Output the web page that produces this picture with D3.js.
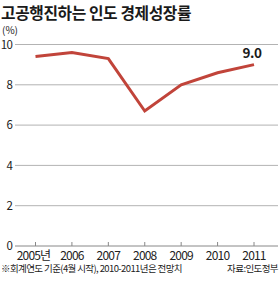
<!DOCTYPE html>
<html><head><meta charset="utf-8">
<script src="https://cdn.jsdelivr.net/npm/d3@7"></script>
<style>
html,body{margin:0;padding:0;background:#fff;}
svg{display:block;}
text{font-family:"Noto Sans CJK KR","Noto Sans",sans-serif;}
</style></head>
<body>
<script>
const title = "고공행진하는 인도 경제성장률";
const unitLabel = "(%)";
const years = ["2005","2006","2007","2008","2009","2010","2011"];
const yearLabels = ["2005년","2006","2007","2008","2009","2010","2011"];
const growth = [9.4, 9.6, 9.3, 6.7, 8.0, 8.6, 9.0];
const yTicks = [0, 2, 4, 6, 8, 10];
const lastLabel = "9.0";
const footnote = "※회계연도 기준(4월 시작), 2010-2011년은 전망치";
const source = "자료:인도정부";

const W = 280, H = 283;
const svg = d3.select("body").append("svg").attr("width", W).attr("height", H);

const x = d3.scalePoint().domain(years).range([35.5, 254]);
const y = d3.scaleLinear().domain([0, 10]).range([246, 44.5]);
const gridL = 15, gridR = 278;

svg.append("text").attr("x", 1).attr("y", 18.5)
  .attr("font-size", 15.8).attr("font-weight", "bold").attr("fill", "#1a1a1a")
  .attr("letter-spacing", -0.4).text(title);

svg.append("text").attr("x", 2).attr("y", 34)
  .attr("font-size", 10).attr("fill", "#222")
  .attr("font-family", "Liberation Sans, Arial, sans-serif").text(unitLabel);

// grid lines
svg.append("g").selectAll("line").data(yTicks.filter(d => d > 0)).join("line")
  .attr("x1", gridL).attr("x2", gridR)
  .attr("y1", d => y(d)).attr("y2", d => y(d))
  .attr("stroke", "#b3b3b3").attr("stroke-width", 1);

// y labels
svg.append("g").selectAll("text").data(yTicks).join("text")
  .attr("x", 12.5).attr("y", d => y(d) + 4.3)
  .attr("text-anchor", "end").attr("font-size", 11.5).attr("fill", "#222")
  .attr("letter-spacing", -0.5)
  .attr("font-family", "Liberation Sans, Arial, sans-serif")
  .text(d => d);

// x axis
const xAxis = svg.append("g").attr("transform", `translate(0,${y(0)})`);
xAxis.append("line").attr("x1", gridL).attr("x2", gridR)
  .attr("stroke", "#888").attr("stroke-width", 1);
xAxis.selectAll("line.tick").data(years).join("line").attr("class", "tick")
  .attr("x1", d => x(d)).attr("x2", d => x(d)).attr("y1", 0).attr("y2", -4)
  .attr("stroke", "#888").attr("stroke-width", 1);
xAxis.selectAll("text").data(years).join("text")
  .attr("x", (d, i) => x(d) + (i === 0 ? -2 : 0)).attr("y", 13.5)
  .attr("text-anchor", "middle").attr("font-size", 12).attr("fill", "#222")
  .attr("letter-spacing", -0.8)
  .attr("font-family", (d, i) => i === 0 ? "Noto Sans CJK KR, sans-serif" : "Liberation Sans, Arial, sans-serif")
  .text((d, i) => yearLabels[i]);

// line
const line = d3.line().x((d, i) => x(years[i])).y(d => y(d));
svg.append("path").datum(growth).attr("d", line)
  .attr("fill", "none").attr("stroke", "#c1443a").attr("stroke-width", 3)
  .attr("stroke-linejoin", "miter");

svg.append("text").attr("x", x(years[years.length - 1]) - 2).attr("y", y(growth[growth.length - 1]) - 7)
  .attr("text-anchor", "middle").attr("font-size", 13.5).attr("font-weight", "bold")
  .attr("fill", "#1a1a1a").attr("letter-spacing", -0.5)
  .attr("font-family", "Liberation Sans, Arial, sans-serif").text(lastLabel);

svg.append("text").attr("x", 1).attr("y", 272)
  .attr("font-size", 9.5).attr("fill", "#222").attr("letter-spacing", -0.6)
  .text(footnote);
svg.append("text").attr("x", 278).attr("y", 272).attr("text-anchor", "end")
  .attr("font-size", 9.5).attr("fill", "#222").attr("letter-spacing", -0.6)
  .text(source);
</script>
</body></html>
